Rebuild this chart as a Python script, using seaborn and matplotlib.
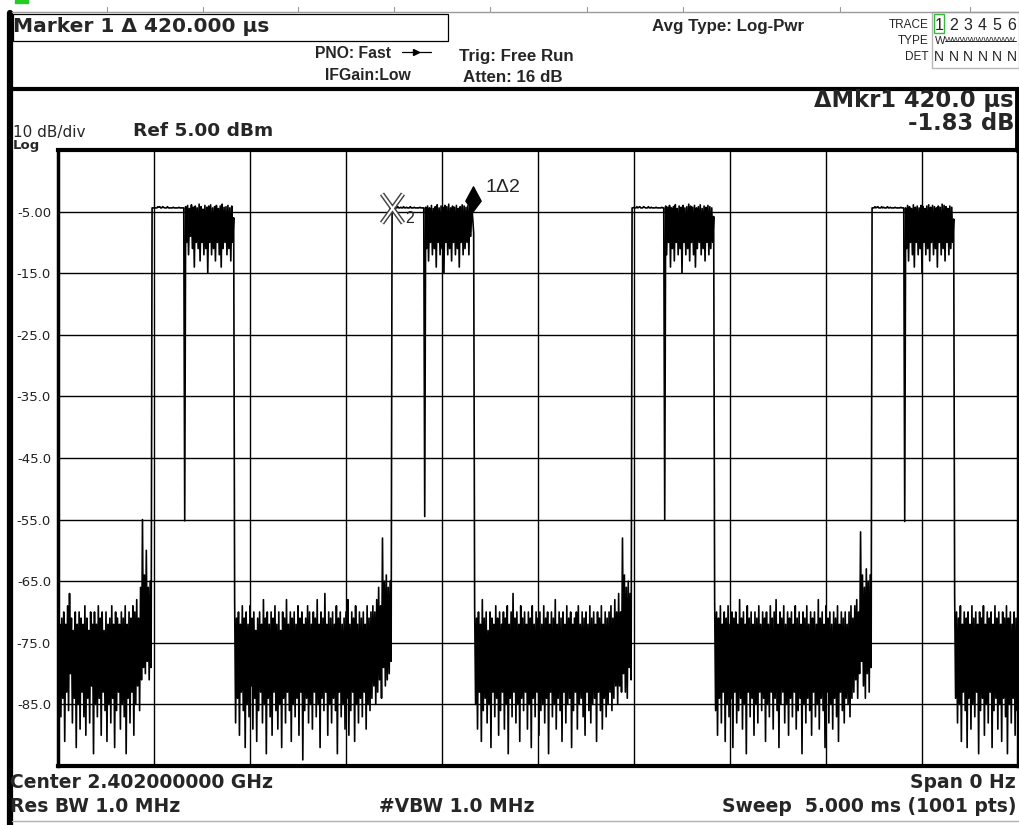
import numpy as np
import pandas as pd
import matplotlib
matplotlib.use("Agg")
import matplotlib.pyplot as plt
from matplotlib.path import Path
from matplotlib.lines import Line2D
from matplotlib.patches import Rectangle
import seaborn as sns

# ---- zero-span sweep: 5 ms, 1001 trace points (5 us apart) ----
SWEEP_MS = 5.0
N_POINTS = 1001
REF_DBM = 5.0
DB_PER_DIV = 10.0

# noise floor between bursts (dBm)
noise_a = [-70, -82, -72, -87, -71, -84, -70, -91, -72, -83,
           -69, -86, -67, -80, -71, -88, -73, -84, -70, -92,
           -72, -85, -70, -89, -71, -83, -72, -87, -69, -90,
           -71, -84, -73, -88, -70, -82, -72, -93, -70, -85,
           -72, -87, -69, -84, -71, -90, -70, -83, -73, -86,
           -70, -91, -72, -85, -71, -88, -69, -84, -72, -92,
           -70, -86, -71, -83, -72, -89, -70, -85, -71, -87,
           -69, -93, -72, -84, -70, -88, -71, -83, -69, -90,
           -70, -85, -68, -82, -71, -86, -66, -81, -55, -79,
           -64, -80, -60, -78, -66, -81, -65, -79]
noise_b = [-68, -88, -71, -84, -70, -90, -72, -83, -69, -86,
           -71, -92, -70, -85, -72, -87, -69, -82, -71, -89,
           -70, -84, -73, -91, -71, -86, -70, -83, -72, -88,
           -68, -85, -71, -93, -70, -84, -72, -87, -70, -90,
           -71, -83, -69, -86, -72, -89, -70, -85, -73, -92,
           -70, -84, -71, -88, -68, -83, -72, -86, -70, -91,
           -71, -85, -70, -87, -72, -84, -69, -90, -71, -83,
           -70, -94, -72, -86, -71, -84, -69, -88, -70, -85,
           -72, -89, -70, -83, -71, -87, -68, -85, -72, -92,
           -70, -84, -71, -86, -67, -83, -72, -90, -70, -85,
           -71, -88, -70, -84, -72, -86, -69, -93, -71, -83,
           -70, -87, -72, -85, -71, -89, -70, -84, -68, -90,
           -72, -86, -70, -83, -71, -91, -69, -85, -72, -88,
           -70, -84, -71, -87, -70, -83, -72, -89, -69, -85,
           -71, -86, -70, -84, -69, -82, -70, -85, -68, -83,
           -66, -81, -69, -84, -58, -79, -65, -82, -64, -81,
           -66, -80, -65, -78]
noise_c = [-69, -85, -71, -89, -70, -83, -72, -91, -68, -86,
           -71, -84, -70, -88, -73, -85, -70, -92, -71, -83,
           -72, -87, -69, -84, -71, -90, -70, -86, -72, -83,
           -70, -89, -71, -85, -69, -93, -72, -84, -70, -87,
           -67, -83, -71, -88, -70, -85, -72, -91, -69, -84,
           -71, -86, -70, -83, -72, -89, -70, -85, -71, -92,
           -69, -84, -72, -87, -70, -83, -71, -90, -70, -86,
           -72, -85, -69, -88, -71, -84, -70, -93, -72, -83,
           -70, -87, -71, -85, -68, -89, -72, -84, -70, -86,
           -71, -91, -70, -83, -72, -88, -69, -85, -71, -84,
           -70, -92, -72, -86, -71, -83, -70, -89, -69, -85,
           -72, -84, -70, -87, -71, -90, -70, -83, -72, -86,
           -69, -88, -71, -85, -70, -84, -72, -91, -70, -83,
           -71, -86, -69, -89, -72, -84, -70, -87, -71, -85,
           -70, -83, -69, -86, -71, -84, -68, -82, -70, -85,
           -67, -82, -70, -83, -58, -80, -64, -83, -66, -84,
           -65, -79, -67, -81]
noise_d = [-68, -86, -70, -90, -71, -84, -69, -88, -72, -83,
           -70, -91, -71, -85, -69, -87, -72, -84, -70, -92,
           -71, -83, -70, -88, -72, -86, -68, -84, -71, -89,
           -70, -85, -72, -93, -69, -83, -71, -87, -70, -84,
           -72, -90, -70, -85, -71, -88, -69, -83, -72, -86,
           -70, -84, -71, -91, -70, -85, -72, -87, -69, -83,
           -71, -89, -70, -84, -68, -86, -72, -92, -70, -85,
           -71, -83, -69, -88, -72, -85, -70, -90, -71, -84,
           -70, -87, -72, -83, -69, -89, -71, -86, -70, -84,
           -72, -93, -70, -85, -71, -88, -69, -84, -72, -86,
           -70, -90, -71, -83, -70, -87, -72, -85, -68, -89,
           -71, -84, -70, -86, -72, -92, -69, -83, -71, -88,
           -70, -85, -72, -89, -70, -84, -71, -87, -69, -91,
           -72, -83, -70, -86, -71, -88, -70, -84, -72, -85,
           -70, -87, -69, -84, -71, -83, -69, -81, -68, -84,
           -70, -80, -57, -78, -64, -82, -66, -84, -63, -80,
           -65, -83, -64, -79]
noise_e = [-67, -84, -70, -88, -71, -85, -69, -91, -72, -83,
           -70, -86, -71, -92, -70, -84, -72, -89, -69, -85,
           -71, -87, -70, -83, -72, -93, -70, -86, -71, -84,
           -69, -90, -72, -85, -70, -88, -71, -83, -70, -92,
           -72, -86, -69, -84, -71, -89, -70, -85, -72, -91,
           -70, -84, -71, -87, -69, -93, -71, -85, -70, -88,
           -72, -84, -70, -90, -71, -86, -70]

# flat preamble at the start of each burst
flat_1 = [-4.4, -4.4, -4.4, -4.4, -4.4, -4.4, -4.2, -4.3, -4.2, -4.4,
          -4.4, -4.2, -4.3, -4.4, -4.4, -4.4, -4.2, -4.4, -4.4, -4.4,
          -4.4, -4.4, -4.3, -4.4, -4.4, -4.4, -4.4, -4.4, -4.3, -4.4,
          -4.4, -4.4, -4.4, -4.4]
flat_2 = [-4.4, -4.4, -4.4, -4.3, -4.4, -4.4, -4.2, -4.4, -4.4, -4.3,
          -4.4, -4.4, -4.2, -4.4, -4.4, -4.3, -4.4, -4.4, -4.4, -4.2,
          -4.4, -4.4, -4.4, -4.3, -4.4, -4.4, -4.4, -4.4, -4.4, -4.3,
          -4.4, -4.4, -4.4, -4.4]
flat_3 = [-4.4, -4.4, -4.3, -4.4, -4.4, -4.2, -4.4, -4.3, -4.2, -4.4,
          -4.4, -4.4, -4.2, -4.3, -4.4, -4.4, -4.4, -4.2, -4.4, -4.4,
          -4.3, -4.4, -4.4, -4.4, -4.4, -4.3, -4.4, -4.4, -4.4, -4.4,
          -4.4, -4.3, -4.4, -4.4]
flat_4 = [-4.4, -4.4, -4.4, -4.2, -4.4, -4.3, -4.2, -4.4, -4.4, -4.4,
          -4.2, -4.4, -4.3, -4.4, -4.4, -4.4, -4.2, -4.4, -4.4, -4.3,
          -4.4, -4.4, -4.4, -4.4, -4.3, -4.4, -4.4, -4.4, -4.4, -4.4,
          -4.3, -4.4, -4.4, -4.4]

# short drop between preamble and payload
dip_levels = [-55.2, -54.5, -55.0, -55.3]

# modulated payload of each burst
burst_1 = [-4.2, -10, -4.0, -12, -4.5, -9, -3.9, -11, -4.3, -14,
           -4.1, -10, -4.4, -11, -3.8, -13, -4.2, -10, -4.6, -12,
           -4.0, -11, -4.3, -15, -4.1, -10, -3.9, -12, -4.4, -11,
           -4.2, -13, -4.0, -10, -4.5, -12, -4.1, -14, -3.8, -11,
           -4.3, -10, -4.2, -12, -4.0, -11, -4.4, -13, -4.1, -10,
           -6.0]
burst_2 = [-4.3, -11, -4.1, -13, -4.4, -10, -4.0, -12, -4.5, -11,
           -4.2, -14, -3.9, -10, -4.4, -12, -4.1, -11, -4.3, -15,
           -4.0, -10, -4.2, -12, -3.8, -11, -4.4, -13, -4.1, -10,
           -4.3, -12, -4.0, -11, -4.5, -14, -4.2, -10, -3.9, -12,
           -4.1, -11, -4.3, -10, -4.0, -12, -4.2, -9, -3.8, -6.23,
           -8.5]
burst_3 = [-4.1, -12, -4.3, -10, -4.0, -14, -4.4, -11, -4.2, -13,
           -3.9, -10, -4.5, -12, -4.1, -11, -4.3, -15, -4.0, -10,
           -4.4, -12, -4.2, -11, -3.8, -13, -4.1, -10, -4.3, -12,
           -4.0, -14, -4.4, -11, -4.2, -10, -3.9, -12, -4.5, -11,
           -4.1, -13, -4.3, -10, -4.0, -12, -4.2, -11, -4.4, -10,
           -5.8]
burst_4 = [-4.4, -11, -4.0, -13, -4.2, -10, -4.5, -12, -3.9, -14,
           -4.3, -10, -4.1, -12, -4.4, -11, -4.0, -15, -4.2, -10,
           -4.5, -12, -4.1, -11, -3.9, -13, -4.3, -10, -4.0, -12,
           -4.2, -11, -4.4, -14, -4.1, -10, -4.3, -12, -3.8, -11,
           -4.0, -13, -4.2, -10, -4.5, -12, -4.1, -11, -4.3, -10,
           -6.2]

# markers (ms)
MKR2_T = 1.74
MKR1_T = 2.16

y_tick_vals = [-5, -15, -25, -35, -45, -55, -65, -75, -85]
y_tick_text = ["-5.00", "-15.0", "-25.0", "-35.0", "-45.0",
               "-55.0", "-65.0", "-75.0", "-85.0"]

# ---- assemble trace ----
level = (noise_a + flat_1 + [dip_levels[0]] + burst_1 +
         noise_b + flat_2 + [dip_levels[1]] + burst_2 +
         noise_c + flat_3 + [dip_levels[2]] + burst_3 +
         noise_d + flat_4 + [dip_levels[3]] + burst_4 + noise_e)
step_ms = SWEEP_MS / (N_POINTS - 1)
time_ms = np.round(np.arange(len(level)) * step_ms, 4)
df = pd.DataFrame({"time_ms": time_ms, "level_dbm": level})

i1 = int(round(MKR1_T / step_ms))
i2 = int(round(MKR2_T / step_ms))
mkr1_val = df.level_dbm[i1]
mkr2_val = df.level_dbm[i2]
delta_db = mkr1_val - mkr2_val
delta_us = (MKR1_T - MKR2_T) * 1000

# ---- figure ----
W, H = 1019, 825
sns.set_style("white")
plt.rcParams["font.family"] = ["Liberation Sans", "DejaVu Sans"]
fig = plt.figure(figsize=(W / 100, H / 100), dpi=100)
fig.patch.set_facecolor("white")

WIDE = ["DejaVu Sans"]
ARIAL = ["Liberation Sans", "DejaVu Sans"]


def fx(x):
    return x / W


def fy(y):
    return 1 - y / H


ax = fig.add_axes([fx(58), fy(766), (1018 - 58) / W, (766 - 150) / H])
sns.lineplot(data=df, x="time_ms", y="level_dbm", color="black",
             linewidth=1.2, estimator=None, sort=False, ax=ax, zorder=3)
ax.set_xlim(0, SWEEP_MS)
ax.set_ylim(REF_DBM - 10 * DB_PER_DIV, REF_DBM)
ax.set_xticks(np.arange(0.5, SWEEP_MS, 0.5))
ax.set_yticks(y_tick_vals)
ax.set_yticklabels(y_tick_text)
ax.set_xlabel("")
ax.set_ylabel("")
ax.grid(True, color="black", linewidth=1.0, zorder=1)
ax.tick_params(axis="x", labelbottom=False, length=0)
ax.tick_params(axis="y", length=0, pad=5, labelsize=9.5, labelcolor="#222222")
for lab in ax.get_yticklabels():
    lab.set_fontfamily(WIDE)
for side, lw in (("left", 2.5), ("bottom", 3), ("top", 3), ("right", 2.5)):
    ax.spines[side].set_visible(True)
    ax.spines[side].set_color("black")
    ax.spines[side].set_linewidth(lw)

# reference marker (2): hollow X
x_path = Path([(-0.36, -0.5), (0.36, 0.5), (-0.36, 0.5), (0.36, -0.5)],
              [Path.MOVETO, Path.LINETO, Path.MOVETO, Path.LINETO])
ax.plot([MKR2_T], [mkr2_val], marker=x_path, markersize=21, linestyle="none",
        markeredgecolor="#444444", markeredgewidth=3.6, zorder=5)
ax.plot([MKR2_T], [mkr2_val], marker=x_path, markersize=21, linestyle="none",
        markeredgecolor="white", markeredgewidth=1.5, zorder=6)
ax.annotate("2", (MKR2_T, mkr2_val), xytext=(13, -11), textcoords="offset pixels",
            fontsize=11.5, ha="left", va="center", zorder=7, family=ARIAL)

# delta marker (1): kite sitting on top of the trace point
kite = Path([(0, 8), (7.5, 18), (0, 32), (-7.5, 18), (0, 8)],
            [Path.MOVETO, Path.LINETO, Path.LINETO, Path.LINETO, Path.CLOSEPOLY])
ax.plot([MKR1_T], [mkr1_val], marker=kite, markersize=47, linestyle="none",
        color="black", zorder=6)
ax.annotate("1\u03942", (MKR1_T, mkr1_val), xytext=(13, 32),
            textcoords="offset pixels", fontsize=14, ha="left", va="center",
            zorder=7, family=ARIAL)


# ---- display frame ----
def hline(y, x0, x1, lw, color="black"):
    fig.add_artist(Line2D([fx(x0), fx(x1)], [fy(y), fy(y)], lw=lw, color=color))


def vline(x, y0, y1, lw, color="black"):
    fig.add_artist(Line2D([fx(x), fx(x)], [fy(y0), fy(y1)], lw=lw, color=color))


vline(9.5, 13, 825, 4.5)
hline(12, 12, 1019, 1.0, "#9a9a9a")
for tx in (107, 203, 298, 394, 490, 587, 683, 840, 970):
    vline(tx, 7, 12, 0.8, "#9a9a9a")
fig.add_artist(Rectangle((fx(15), fy(3)), (28 - 15) / W, 3 / H, color="#22cc22",
                         transform=fig.transFigure))
hline(89, 12, 1019, 3.0)
vline(1016.5, 89, 150, 3.5)
hline(821, 12, 1019, 1.0, "#b0b0b0")

fig.add_artist(Rectangle((fx(13), fy(41)), (448 - 13) / W, (41 - 14) / H,
                         fill=False, edgecolor="black", lw=0.9,
                         transform=fig.transFigure))


def txt(x, y, s, size, ha="left", weight="normal", family=None, va="center", **kw):
    fam = family if family is not None else ARIAL
    fig.text(fx(x), fy(y), s, fontsize=size, ha=ha, va=va,
             fontweight=weight, family=fam, **kw)


txt(13, 27, f"Marker 1 \u0394 {delta_us:.3f} \u00b5s", 14.5, weight="bold", family=WIDE)
txt(315, 53, "PNO: Fast", 11.3, weight="bold")
txt(325, 76, "IFGain:Low", 11.3, weight="bold")
hline(52, 402, 431, 0.9)
fig.add_artist(Line2D([fx(416)], [fy(52)], marker=">", markersize=5,
                      color="black", linestyle="none"))
txt(459, 56, "Trig: Free Run", 12.2, weight="bold")
txt(463, 78, "Atten: 16 dB", 12.2, weight="bold")
txt(652, 26, "Avg Type: Log-Pwr", 12.2, weight="bold")

txt(929, 25, "TRACE", 8.5, ha="right")
txt(929, 41, "TYPE", 8.5, ha="right")
txt(929, 57, "DET", 8.5, ha="right")
fig.add_artist(Rectangle((fx(932), fy(68)), (1019 - 932) / W, (68 - 12) / H,
                         fill=False, edgecolor="#b8b8b8", lw=1.0,
                         transform=fig.transFigure))
fig.add_artist(Rectangle((fx(934), fy(33)), 10 / W, 19 / H,
                         fill=False, edgecolor="#33bb33", lw=1.0,
                         transform=fig.transFigure))
for k, xd in enumerate((939, 953.5, 968, 982.5, 997, 1011.5)):
    txt(xd, 25, str(k + 1), 11.5, ha="center", color="#222222")
    txt(xd, 57, "N", 10, ha="center", color="#222222")
txt(935, 41, "W", 8)
txt(945, 41, "WWWWWWWWW", 6)
hline(41, 945, 1016, 0.6)

txt(1014, 100, f"\u0394Mkr1 {delta_us:.1f} \u00b5s", 16.3, ha="right",
    weight="bold", family=WIDE)
txt(1014, 124, f"{delta_db:.2f} dB", 16.3, ha="right", weight="bold", family=WIDE)
txt(13, 137, "10 dB/div", 11, family=WIDE, va="baseline")
txt(13, 149, "Log", 9.5, weight="bold", family=WIDE, va="baseline")
txt(133, 131.5, f"Ref {REF_DBM:.2f} dBm", 13.3, weight="bold", family=WIDE)

txt(10, 782, "Center 2.402000000 GHz", 13.5, weight="bold", family=WIDE)
txt(1016, 782, "Span 0 Hz", 13.5, ha="right", weight="bold", family=WIDE)
txt(10, 806, "Res BW 1.0 MHz", 13.5, weight="bold", family=WIDE)
txt(379, 806, "#VBW 1.0 MHz", 13.5, weight="bold", family=WIDE)
txt(1017, 806, f"Sweep  {SWEEP_MS:.3f} ms ({N_POINTS} pts)", 13.5, ha="right",
    weight="bold", family=WIDE)

fig.savefig("out.png", dpi=100, facecolor="white")
